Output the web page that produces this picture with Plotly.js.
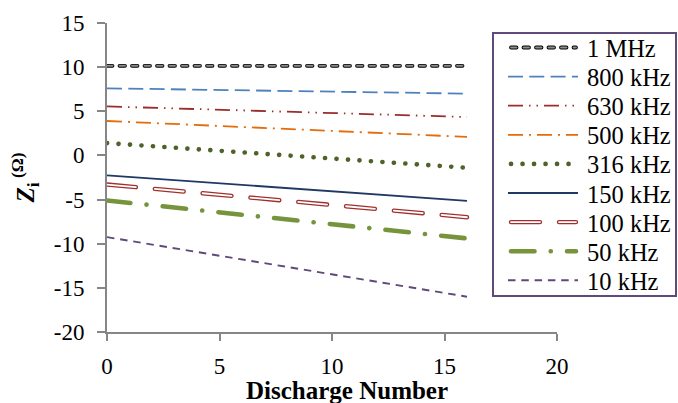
<!DOCTYPE html>
<html><head><meta charset="utf-8">
<script src="https://cdn.plot.ly/plotly-3.0.1.min.js"></script>
<style>html,body{margin:0;padding:0;background:#fff}#chart{width:678px;height:403px}</style>
</head><body><div id="chart"></div>
<script>
const discharge = [0, 16];
const seriesNames = ['1 MHz','800 kHz','630 kHz','500 kHz','316 kHz','150 kHz','100 kHz','50 kHz','10 kHz'];
const z1MHz   = [10.15, 10.15];
const z800k   = [7.6, 7.0];
const z630k   = [5.55, 4.35];
const z500k   = [3.9, 2.1];
const z316k   = [1.4, -1.4];
const z150k   = [-2.25, -5.15];
const z100k   = [-3.3, -7.0];
const z50k    = [-5.1, -9.4];
const z10k    = [-9.25, -16.0];
const seriesValues = [z1MHz, z800k, z630k, z500k, z316k, z150k, z100k, z50k, z10k];
const yTickVals = [-20, -15, -10, -5, 0, 5, 10, 15];
const yTickText = ['-20', '-15', '-10', '-5', '0', '5', '10', '15'];
const xTitle = 'Discharge Number';

const styles = [
  {color:'#000000', width:3.8, dash:'5.5px,7px', round:true, inner:{color:'#8c8c8c', width:1.9}},
  {color:'#4F81BD', width:1.8, dash:'15px,6.3px'},
  {color:'#9B2D2A', width:1.8, dash:'15px,6px,1.5px,6px,1.5px,6px'},
  {color:'#E46C0A', width:1.8, dash:'15px,6px,2px,6px'},
  {color:'#4F6228', width:4.6, dash:'0.1px,11.4px', round:true},
  {color:'#1F3864', width:1.8, dash:'solid'},
  {color:'#A0302D', width:4.4, dash:'29px,19px', round:true, inner:{color:'#ffffff', width:1.8}},
  {color:'#77933C', width:4.6, dash:'23.5px,16.2px,0.1px,16.2px', round:true},
  {color:'#5F497A', width:1.9, dash:'7.5px,5.8px'}
];

const fontFam = 'Liberation Serif';
const W = 678, H = 403;
const M = {l: 107, r: 121, t: 23, b: 71};
const pw = W - M.l - M.r, ph = H - M.t - M.b;
const px2x = p => (p - M.l) / pw;
const py2y = p => (H - M.b - p) / ph;

const traces = [];
const roundTraceIdx = [];
seriesNames.forEach((n, i) => {
  const s = styles[i];
  if (s.round) roundTraceIdx.push(traces.length);
  traces.push({x: discharge, y: seriesValues[i], name: n, mode: 'lines', type: 'scatter',
    line: {color: s.color, width: s.width, dash: s.dash}, showlegend: false, hoverinfo: 'skip'});
  if (s.inner) {
    if (s.round) roundTraceIdx.push(traces.length);
    traces.push({x: discharge, y: seriesValues[i], name: n, mode: 'lines', type: 'scatter',
      showlegend: false, hoverinfo: 'skip',
      line: {color: s.inner.color, width: s.inner.width, dash: s.dash}});
  }
});

// legend drawn as box + line samples + labels
const shapes = [{type: 'rect', xref: 'paper', yref: 'paper', layer: 'above',
  x0: px2x(493), x1: px2x(676), y0: py2y(33), y1: py2y(296),
  line: {color: '#604A7B', width: 2}, fillcolor: '#ffffff'}];
const roundShapeIdx = [];
const annotations = [];
seriesNames.forEach((n, i) => {
  const s = styles[i];
  const ry = 47.5 + i * 29.1;
  const seg = {type: 'line', xref: 'paper', yref: 'paper', layer: 'above',
    x0: px2x(s.round ? 511 : 508), x1: px2x(s.round ? 576 : 578), y0: py2y(ry), y1: py2y(ry)};
  if (s.round) roundShapeIdx.push(shapes.length);
  shapes.push(Object.assign({}, seg, {line: {color: s.color, width: s.width, dash: s.dash}}));
  if (s.inner) {
    if (s.round) roundShapeIdx.push(shapes.length);
    shapes.push(Object.assign({}, seg, {line: {color: s.inner.color, width: s.inner.width, dash: s.dash}}));
  }
  annotations.push({xref: 'paper', yref: 'paper', x: px2x(585), y: py2y(ry + 1),
    xanchor: 'left', yanchor: 'middle', text: n, showarrow: false,
    font: {family: fontFam, size: 24.5, color: '#000'}});
});
// x-axis title (offset right as in the reference)
annotations.push({xref: 'paper', yref: 'paper', x: px2x(347), y: py2y(390),
  xanchor: 'center', yanchor: 'middle', text: '<b>' + xTitle + '</b>', showarrow: false,
  font: {family: fontFam, size: 25, color: '#000'}});

const layout = {
  width: W, height: H, margin: M,
  paper_bgcolor: '#fff', plot_bgcolor: '#fff',
  font: {family: fontFam, color: '#000', size: 23},
  showlegend: false,
  shapes: shapes, annotations: annotations,
  xaxis: {range: [0, 20], dtick: 5, showgrid: false, zeroline: false, showline: true,
    linecolor: '#868686', linewidth: 2, ticks: 'outside', ticklen: 7, tickwidth: 2, tickcolor: '#868686',
    tickfont: {family: fontFam, size: 23, color: '#000'}, ticklabelstandoff: 5, fixedrange: true},
  yaxis: {range: [-20, 15], tickmode: 'array', tickvals: yTickVals, ticktext: yTickText,
    showgrid: false, zeroline: false, showline: true,
    linecolor: '#868686', linewidth: 2, ticks: 'outside', ticklen: 8, tickwidth: 2, tickcolor: '#868686',
    tickfont: {family: fontFam, size: 23, color: '#000'}, ticklabelstandoff: 8, fixedrange: true,
    title: {text: '<b><i>Z</i></b><sub><b>i</b></sub><sup><b> (Ω)</b></sup>', font: {family: fontFam, size: 25, color: '#000'}, standoff: 12}}
};
Plotly.newPlot('chart', traces, layout, {displayModeBar: false, staticPlot: true}).then(() => {
  const tr = document.querySelectorAll('.scatterlayer .trace');
  roundTraceIdx.forEach(i => { const p = tr[i] && tr[i].querySelector('path.js-line'); if (p) p.style.strokeLinecap = 'round'; });
  const sp = document.querySelectorAll('.layer-above .shapelayer path');
  roundShapeIdx.forEach(i => { if (sp[i]) sp[i].style.strokeLinecap = 'round'; });
});
</script></body></html>
